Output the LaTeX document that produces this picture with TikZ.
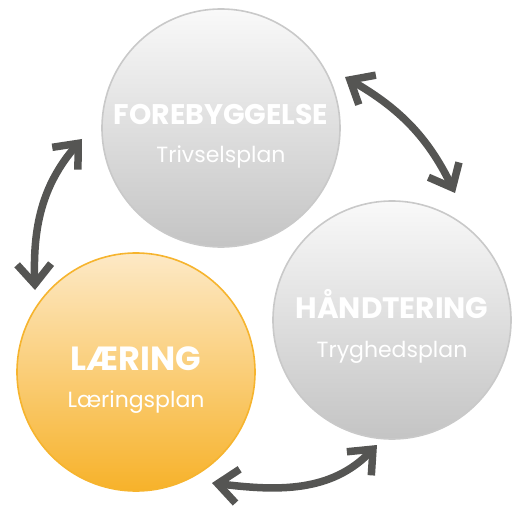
\documentclass[tikz,border=0pt]{standalone}
\usepackage{fontspec}
\setmainfont{Poppins}
\usetikzlibrary{arrows.meta}

\definecolor{grayline}{HTML}{C9C9C9}
\definecolor{graytop}{HTML}{F9F9F9}
\definecolor{graymid}{HTML}{EFEFEF}
\definecolor{graybot}{HTML}{C4C4C4}
\definecolor{orangeline}{HTML}{F6B42E}
\definecolor{orangetop}{HTML}{FDE9C6}
\definecolor{orangemid}{HTML}{F9CC74}
\definecolor{orangebot}{HTML}{F7B22A}
\definecolor{arrowgray}{HTML}{555553}

\begin{document}
\begin{tikzpicture}[x=1pt,y=1pt,
  bubble/.style={circle,minimum size=238pt,inner sep=0pt,line width=1.6pt},
  graybubble/.style={bubble,draw=grayline,top color=graytop,middle color=graymid,bottom color=graybot},
  orangebubble/.style={bubble,draw=orangeline,top color=orangetop,middle color=orangemid,bottom color=orangebot},
  headtxt/.style={anchor=base,text=white,font=\fontsize{#1}{#1}\selectfont\bfseries},
  plantxt/.style={anchor=base,text=white,font=\fontsize{22}{24}\selectfont},
  cyclearrow/.style={line width=7.5pt,draw=arrowgray,
    {Straight Barb[sharp,length=20pt,width=34pt]}-{Straight Barb[sharp,length=20pt,width=34pt]}}]

\useasboundingbox (0,0) rectangle (517,507);

% The three circles
\node[graybubble] (fore) at (221,379) {};
\node[graybubble] (hand) at (392,187) {};
\node[orangebubble] (laer) at (136,135) {};

% Labels in the circles
\node[headtxt=28.4] (foretitle) at ([yshift=3pt]fore.center) {FOREBYGGELSE};
\node[plantxt] (foreplan) at ([yshift=-35pt]fore.center) {Trivselsplan};
\node[headtxt=29.5] (handtitle) at ([yshift=2pt]hand.center) {HÅNDTERING};
\node[plantxt] (handplan) at ([yshift=-37pt]hand.center) {Tryghedsplan};
\node[headtxt=33.5] (laertitle) at ([yshift=2pt]laer.center) {LÆRING};
\node[plantxt] (laerplan) at ([yshift=-35pt]laer.center) {Læringsplan};

% Arrow ends
\coordinate (lf-low) at (35,217);
\coordinate (lf-up) at (82,368);
\coordinate (rt-up) at (345,430);
\coordinate (rt-low) at (455,314);
\coordinate (bt-left) at (212,24);
\coordinate (bt-right) at (377,62);

% Double arrows between the circles
\draw[cyclearrow] (lf-low) to[out=92,in=229] (lf-up);     % laering - forebyggelse
\draw[cyclearrow] (rt-up) to[out=-30,in=116] (rt-low);    % forebyggelse - haandtering
\draw[cyclearrow] (bt-left) to[out=-7,in=226] (bt-right); % laering - haandtering

\end{tikzpicture}
\end{document}
